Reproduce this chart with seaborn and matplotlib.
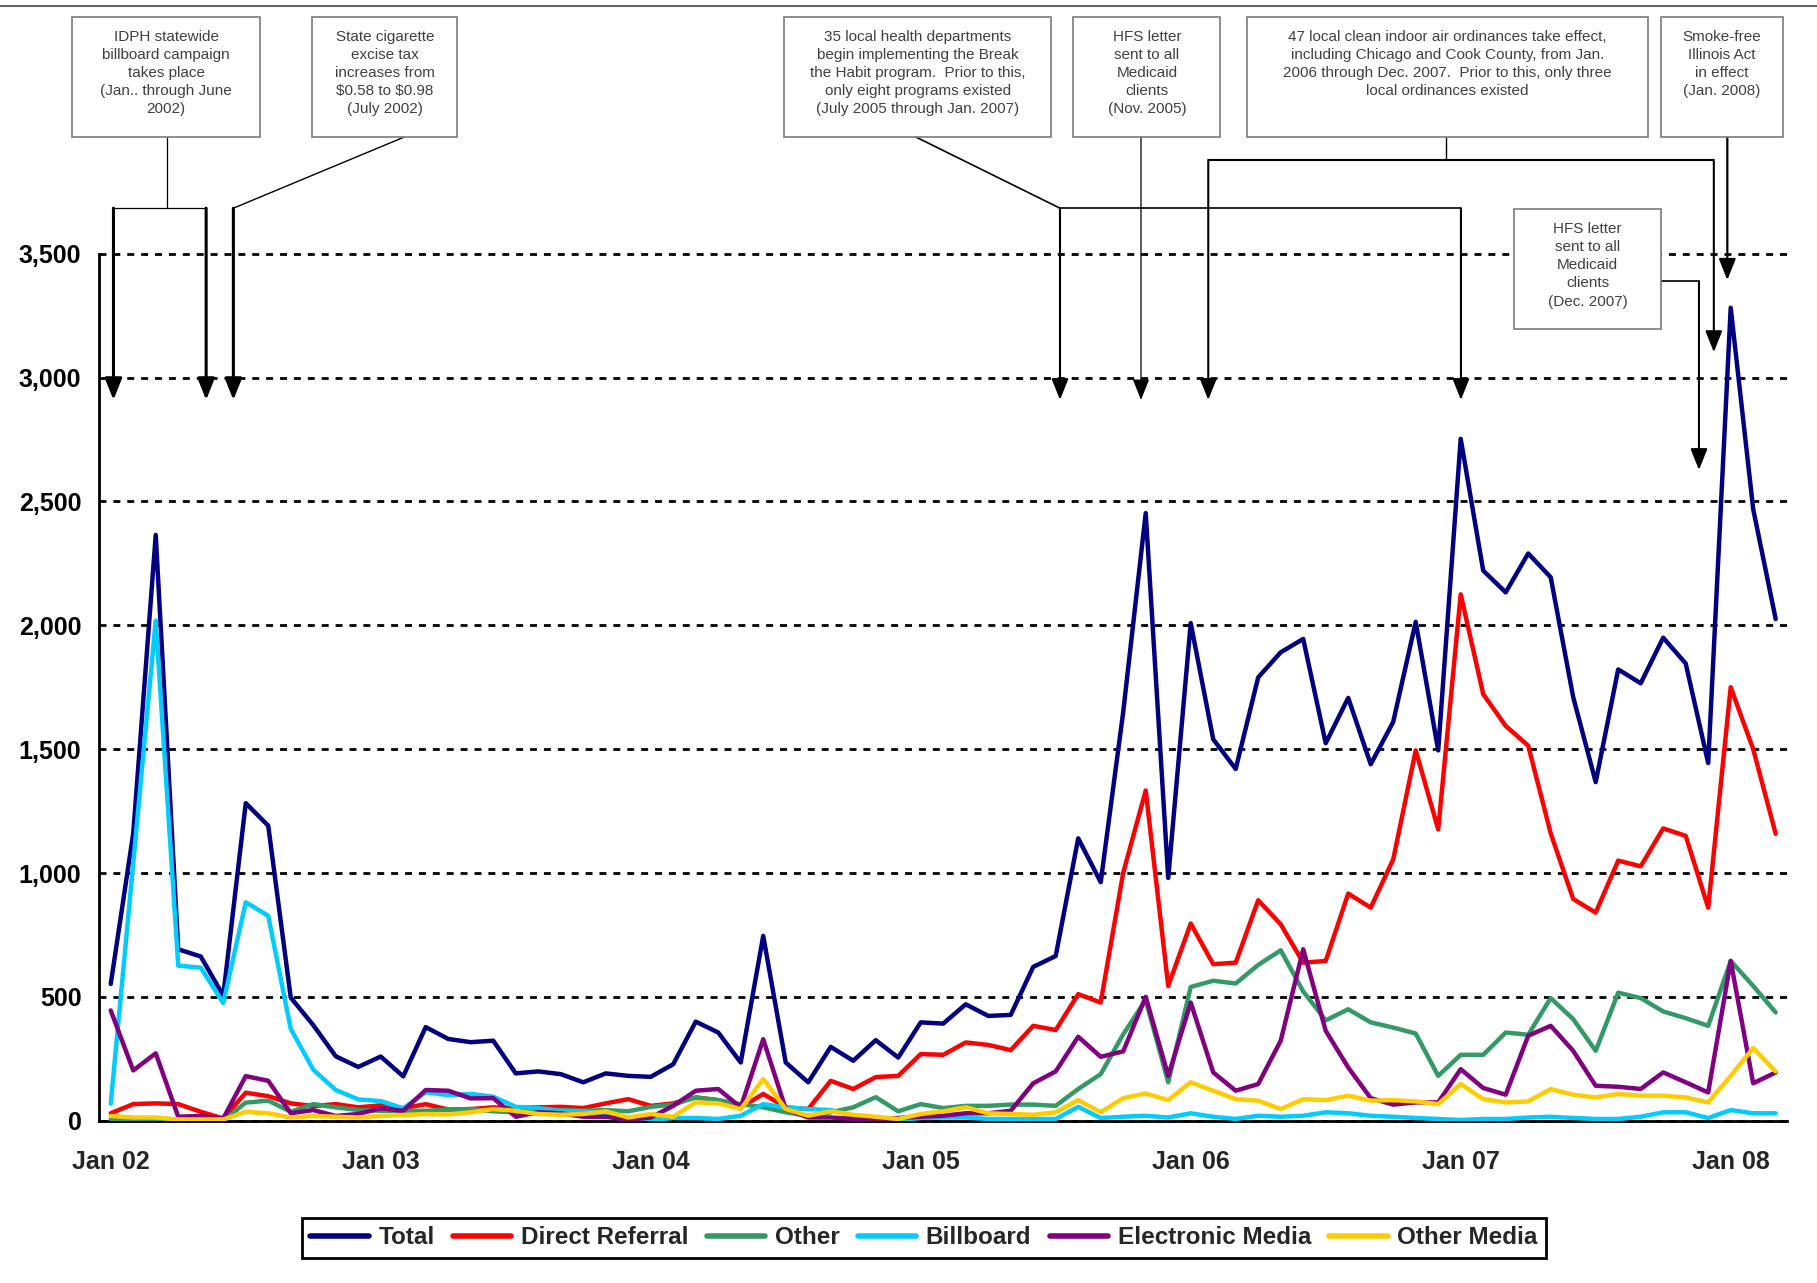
import numpy as np
import pandas as pd
import matplotlib
matplotlib.use("Agg")
import matplotlib.pyplot as plt
import seaborn as sns
from matplotlib.lines import Line2D
from matplotlib.patches import Rectangle

# Monthly counts, Jan 2002 - Mar 2008
months = pd.date_range("2002-01-01", periods=75, freq="MS")

total = [552, 1160, 2365, 692, 663, 505, 1282, 1191, 497, 386, 260, 217,
         259, 179, 378, 330, 317, 323, 191, 199, 188, 155, 191, 181,
         177, 228, 400, 356, 235, 746, 235, 155, 298, 242, 325, 255,
         397, 392, 470, 423, 427, 621, 665, 1140, 963, 1650, 2453, 980,
         2009, 1540, 1420, 1790, 1891, 1945, 1524, 1707, 1439, 1610, 2014, 1495,
         2753, 2221, 2133, 2290, 2194, 1710, 1367, 1822, 1766, 1950, 1846, 1444,
         3282, 2469, 2025]
direct_referral = [30, 67, 70, 67, 36, 9, 113, 99, 70, 59, 67, 54,
                   62, 50, 67, 45, 47, 54, 51, 54, 56, 51, 70, 87,
                   60, 70, 94, 83, 54, 108, 54, 47, 161, 128, 176, 181,
                   269, 266, 316, 306, 285, 383, 366, 511, 477, 1001, 1333, 544,
                   796, 632, 638, 890, 793, 638, 645, 917, 860, 1055, 1495, 1176,
                   2125, 1722, 1594, 1514, 1160, 895, 840, 1050, 1027, 1180, 1150, 860,
                   1750, 1500, 1158]
other = [5, 0, 0, 0, 0, 0, 73, 81, 36, 67, 54, 43,
         40, 40, 40, 45, 47, 38, 34, 40, 43, 40, 43, 38,
         56, 65, 94, 83, 67, 54, 34, 20, 34, 54, 95, 38,
         67, 51, 60, 60, 65, 65, 60, 128, 188, 349, 487, 155,
         540, 565, 554, 629, 688, 522, 405, 450, 397, 376, 352, 181,
         266, 266, 356, 347, 495, 410, 282, 517, 495, 441, 414, 383,
         645, 544, 437]
billboard = [69, 1040, 2019, 626, 618, 475, 882, 827, 371, 206, 124, 86,
             79, 50, 115, 103, 108, 97, 56, 51, 40, 38, 30, 7,
             3, 11, 11, 7, 20, 67, 54, 47, 43, 20, 10, 3,
             11, 13, 13, 7, 7, 7, 7, 56, 11, 16, 20, 13,
             30, 16, 7, 20, 16, 20, 34, 30, 20, 16, 11, 7,
             3, 7, 7, 13, 16, 11, 7, 7, 16, 34, 34, 11,
             43, 30, 30]
electronic_media = [445, 203, 272, 16, 19, 9, 180, 161, 30, 43, 19, 27,
                    50, 40, 124, 121, 90, 91, 16, 34, 30, 16, 16, 3,
                    13, 60, 121, 128, 54, 329, 47, 13, 13, 7, 5, 11,
                    16, 20, 30, 30, 40, 151, 199, 339, 258, 280, 500, 181,
                    477, 195, 121, 148, 323, 692, 363, 215, 91, 65, 74, 74,
                    208, 132, 105, 343, 383, 282, 141, 137, 128, 195, 155, 114,
                    645, 151, 195]
other_media = [19, 13, 13, 5, 5, 5, 36, 30, 13, 19, 16, 13,
               19, 23, 27, 25, 34, 47, 40, 27, 24, 27, 38, 13,
               27, 16, 74, 70, 47, 168, 47, 20, 38, 24, 16, 7,
               27, 38, 54, 30, 27, 24, 34, 83, 34, 91, 110, 83,
               155, 121, 87, 81, 47, 87, 83, 101, 81, 83, 78, 67,
               148, 87, 74, 78, 128, 105, 94, 108, 101, 101, 94, 74,
               181, 293, 199]

series_names = ["Total", "Direct Referral", "Other", "Billboard",
                "Electronic Media", "Other Media"]
series_values = [total, direct_referral, other, billboard,
                 electronic_media, other_media]
series_colors = ["#000080", "#FF0000", "#339966", "#00CCFF", "#800080", "#FFCC00"]

y_ticks = [0, 500, 1000, 1500, 2000, 2500, 3000, 3500]

# Annotation boxes: text, month span (left, right), value span (bottom, top)
notes = [
    ("IDPH statewide\nbillboard campaign\ntakes place\n(Jan.. through June\n2002)",
     -1.70, 6.63, 3973, 4457),
    ("State cigarette\nexcise tax\nincreases from\n$0.58 to $0.98\n(July 2002)",
     8.96, 15.41, 3973, 4457),
    ("35 local health departments\nbegin implementing the Break\n"
     "the Habit program.  Prior to this,\nonly eight programs existed\n"
     "(July 2005 through Jan. 2007)",
     29.94, 41.80, 3973, 4457),
    ("HFS letter\nsent to all\nMedicaid\nclients\n(Nov. 2005)",
     42.79, 49.32, 3973, 4457),
    ("47 local clean indoor air ordinances take effect,\n"
     "including Chicago and Cook County, from Jan.\n"
     "2006 through Dec. 2007.  Prior to this, only three\nlocal ordinances existed",
     50.49, 68.32, 3973, 4457),
    ("Smoke-free\nIllinois Act\nin effect\n(Jan. 2008)",
     68.92, 74.31, 3973, 4457),
    ("HFS letter\nsent to all\nMedicaid\nclients\n(Dec. 2007)",
     62.36, 68.92, 3196, 3681),
]

# Long-form table for seaborn
df = pd.concat(
    [pd.DataFrame({"idx": np.arange(len(months)), "count": vals, "source": name})
     for name, vals in zip(series_names, series_values)],
    ignore_index=True,
)

sns.set_style("white")
plt.rcParams["font.family"] = ["Liberation Sans", "DejaVu Sans"]

fig = plt.figure(figsize=(18.17, 12.83), dpi=100)
ax = fig.add_axes([0.05476, 0.1265, 0.9287, 0.6757])

sns.lineplot(
    data=df, x="idx", y="count", hue="source",
    hue_order=series_names, palette=dict(zip(series_names, series_colors)),
    linewidth=3.2, estimator=None, sort=False, legend=False, ax=ax, zorder=3,
)

ax.set_xlim(-0.5, len(months) - 0.5)
ax.set_ylim(0, 3500)
ax.set_xlabel("")
ax.set_ylabel("")

# Axes styling
for side in ["top", "right"]:
    ax.spines[side].set_visible(False)
for side in ["left", "bottom"]:
    ax.spines[side].set_color("black")
    ax.spines[side].set_linewidth(2)

ax.set_yticks(y_ticks)
ax.set_yticklabels([f"{v:,}" for v in y_ticks], fontweight="bold", fontsize=18)
ax.tick_params(axis="y", length=7, width=1.5, pad=6, colors="black")

ax.set_xticks(np.arange(-0.5, len(months)))
ax.tick_params(axis="x", which="major", length=6, width=1.5, labelbottom=False)
jan_idx = [i for i, m in enumerate(months) if m.month == 1]
ax.set_xticks(jan_idx, [months[i].strftime("Jan %y") for i in jan_idx], minor=True)
ax.tick_params(axis="x", which="minor", length=0, pad=21, labelsize=18)
for lab in ax.get_xticklabels(minor=True):
    lab.set_fontweight("bold")

ax.grid(axis="y", color="black", linestyle=(0, (2.5, 2.5)), linewidth=2)
ax.grid(axis="x", visible=False)
for gl in ax.get_ygridlines():
    gl.set_clip_on(False)
ax.set_axisbelow(True)

# Annotation boxes
for text, x0, x1, y0, y1 in notes:
    ax.add_patch(Rectangle((x0, y0), x1 - x0, y1 - y0, facecolor="white",
                           edgecolor="#7a7a7a", linewidth=1.2, clip_on=False, zorder=5))
    ax.text((x0 + x1) / 2, y1 - 52, text, ha="center", va="top", fontsize=11,
            color="#404040", linespacing=1.38, parse_math=False, zorder=6)


def connector(xs, ys, lw=1.0):
    ax.plot(xs, ys, color="black", linewidth=lw, clip_on=False, zorder=4,
            solid_capstyle="butt")


def arrow(x, y_start, y_tip, lw=2.0):
    ax.annotate("", xy=(x, y_tip), xytext=(x, y_start), annotation_clip=False,
                arrowprops=dict(arrowstyle="-|>,head_length=0.65,head_width=0.26",
                                mutation_scale=20, color="black", lw=lw,
                                shrinkA=0, shrinkB=0), zorder=4)


# Billboard campaign
connector([2.48, 2.48], [3973, 3684], lw=0.9)
connector([0.12, 4.24], [3684, 3684], lw=0.9)
arrow(0.12, 3684, 2910, lw=2.2)
arrow(4.24, 3684, 2910, lw=2.2)
# Cigarette tax
connector([13.09, 5.45], [3973, 3684], lw=1.0)
arrow(5.45, 3684, 2910, lw=2.2)
# Break the Habit
connector([35.75, 42.19], [3973, 3684], lw=1.2)
connector([42.19, 60.01], [3684, 3684], lw=1.2)
arrow(42.19, 3684, 2910, lw=1.5)
arrow(60.01, 3684, 2910, lw=1.5)
# HFS letter Nov 2005
arrow(45.79, 3973, 2910, lw=0.9)
# Local ordinances
connector([59.36, 59.36], [3973, 3879], lw=1.0)
connector([48.78, 71.25], [3879, 3879], lw=1.5)
arrow(48.78, 3879, 2910, lw=1.5)
arrow(71.25, 3879, 3103, lw=1.5)
# Smoke-free Illinois
arrow(71.85, 3973, 3394, lw=1.6)
# HFS letter Dec 2007
connector([68.92, 70.59], [3390, 3390], lw=1.2)
arrow(70.59, 3390, 2627, lw=1.5)

# Thin rule along the top of the figure
fig.add_artist(Line2D([0, 1], [1 - 6 / 1283] * 2, transform=fig.transFigure,
                      color="#444444", linewidth=1.2))

# Legend
handles = [Line2D([0], [0], color=c, linewidth=4) for c in series_colors]
leg = ax.legend(handles, series_names, loc="center",
                bbox_to_anchor=(924 / 1817, 1 - 1238 / 1283),
                bbox_transform=fig.transFigure, ncol=6, frameon=True,
                fancybox=False, edgecolor="black", framealpha=1,
                prop={"weight": "bold", "size": 17.5}, handlelength=2.4,
                handletextpad=0.4, columnspacing=0.75, borderpad=0.35)
leg.get_frame().set_linewidth(2)

fig.savefig("out.png", dpi=100)
